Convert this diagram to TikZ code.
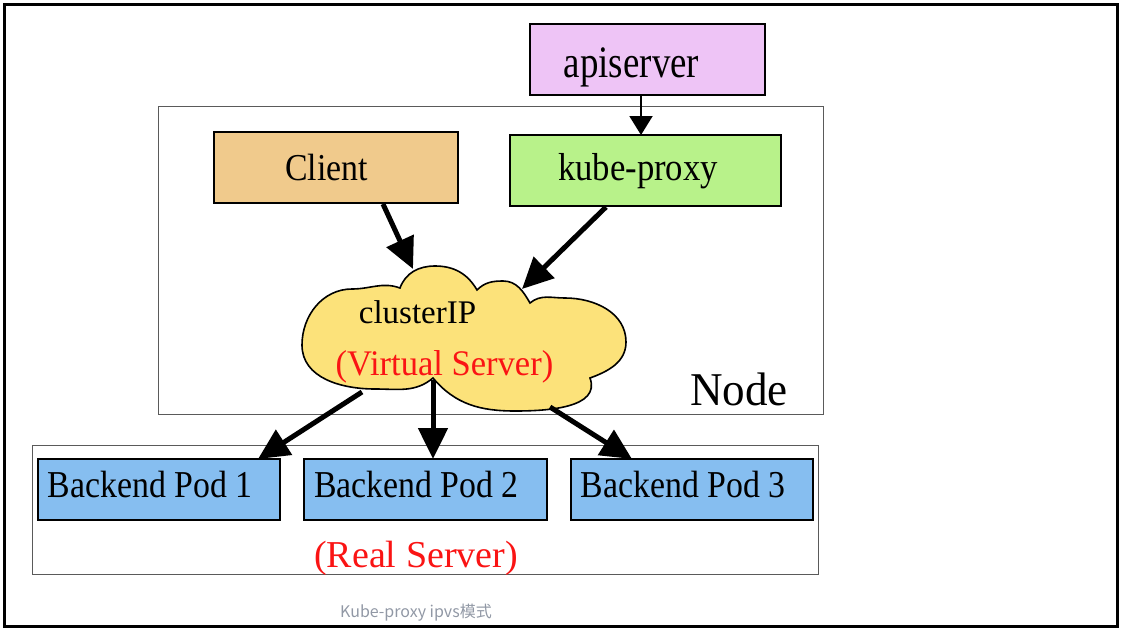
\documentclass[tikz,border=0pt]{standalone}
\usepackage{fontspec}
\setmainfont{Liberation Serif}
\newfontfamily\serA[FakeStretch=0.82]{Liberation Serif}
\newfontfamily\serC[FakeStretch=0.89]{Liberation Serif}
\newfontfamily\serN[FakeStretch=0.96]{Liberation Serif}
\newfontfamily\cjk{Noto Sans CJK SC}
\usetikzlibrary{arrows.meta}
\definecolor{apifill}{RGB}{238,196,246}
\definecolor{clientfill}{RGB}{240,202,140}
\definecolor{kpfill}{RGB}{184,242,138}
\definecolor{podfill}{RGB}{134,190,240}
\definecolor{cloudfill}{RGB}{252,226,122}
\definecolor{redtxt}{RGB}{250,20,20}
\definecolor{framegray}{RGB}{90,90,90}
\definecolor{captiongray}{RGB}{145,152,165}
\tikzset{
  x=1pt, y=1pt,
  boxnode/.style={draw=black, line width=1.6pt, inner sep=0pt, outer sep=0pt},
  areanode/.style={draw=framegray, line width=0.9pt, inner sep=0pt, outer sep=0pt},
  lbl/.style={anchor=base, inner sep=0pt},
  fatarrow/.style={line width=5pt, -{Triangle[length=31pt,width=29pt]}},
  thinarrow/.style={line width=2pt, -{Triangle[length=19pt,width=23pt]}},
}
\begin{document}
\begin{tikzpicture}
\useasboundingbox (0,0) rectangle (1128,-632);
% outer frame
\draw[line width=3pt] (4,-4) rectangle (1117,-626);
% area frames
\node[areanode, minimum width=665pt, minimum height=308pt] (nodearea) at (490.5,-260) {};
\node[areanode, minimum width=786pt, minimum height=129pt] (realarea) at (425,-509.5) {};
% boxes
\node[boxnode, fill=apifill, minimum width=235pt, minimum height=71pt] (api) at (647.5,-59.5) {};
\node[boxnode, fill=clientfill, minimum width=244pt, minimum height=71pt] (client) at (336,-167.5) {};
\node[boxnode, fill=kpfill, minimum width=271pt, minimum height=71pt] (kp) at (645.5,-170.5) {};
\node[boxnode, fill=podfill, minimum width=242pt, minimum height=61pt] (pod1) at (159,-489.5) {};
\node[boxnode, fill=podfill, minimum width=243pt, minimum height=61pt] (pod2) at (425.5,-489.5) {};
\node[boxnode, fill=podfill, minimum width=242pt, minimum height=61pt] (pod3) at (692,-489.5) {};
% cloud
\draw[line width=1.6pt, fill=cloudfill]
  (302,-345) to[out=90,in=180] (352,-289)
  to[out=0,in=160] (400,-288)
  to[out=70,in=180] (435,-266)
  to[out=0,in=120] (477,-290)
  to[out=45,in=180] (503,-281)
  to[out=0,in=120] (530,-303)
  to[out=40,in=180] (565,-298)
  to[out=0,in=90] (626,-342)
  to[out=-90,in=20] (590,-378)
  to[out=-70,in=0] (515,-411)
  to[out=180,in=-50] (433,-378)
  to[out=-140,in=0] (375,-389)
  to[out=180,in=-90] (302,-345) -- cycle;
% texts
\node[lbl] (tapi) at (631.5,-77) {\serA\fontsize{45}{50}\selectfont apiserver};
\node[lbl] (tclient) at (326.5,-180) {\serC\fontsize{38}{40}\selectfont Client};
\node[lbl] (tkp) at (638,-180) {\serC\fontsize{39}{40}\selectfont kube-proxy};
\node[lbl] (tcip) at (417.5,-323) {\fontsize{33}{36}\selectfont clusterIP};
\node[lbl, text=redtxt] (tvs) at (444.5,-375) {\serN\fontsize{36}{38}\selectfont (Virtual Server)};
\node[lbl] (tnode) at (739,-405) {\serN\fontsize{47}{50}\selectfont Node};
\node[lbl] (tp1) at (150,-497) {\serC\fontsize{38}{40}\selectfont Backend Pod 1};
\node[lbl] (tp2) at (416.5,-497) {\serC\fontsize{38}{40}\selectfont Backend Pod 2};
\node[lbl] (tp3) at (683,-497) {\serC\fontsize{38}{40}\selectfont Backend Pod 3};
\node[lbl, text=redtxt] (treal) at (416,-567) {\fontsize{38}{40}\selectfont (Real Server)};
\node[lbl, text=captiongray] (tcap) at (416,-617) {\cjk\fontsize{16}{18}\selectfont Kube-proxy ipvs模式};
% connector end points
\coordinate (apiout) at (641,-95);
\coordinate (kpin) at (641,-135);
\coordinate (clientout) at (383,-204);
\coordinate (cloudinL) at (413,-269);
\coordinate (kpout) at (606,-207);
\coordinate (cloudinR) at (522,-289);
\coordinate (cloudout1) at (362,-392);
\coordinate (cloudout2) at (433,-380);
\coordinate (cloudout3) at (550,-407);
\coordinate (pod1in) at (258,-459);
\coordinate (pod2in) at (433,-459);
\coordinate (pod3in) at (632,-459);
% connectors
\draw[thinarrow] (apiout) -- (kpin);
\draw[fatarrow] (clientout) -- (cloudinL);
\draw[fatarrow] (kpout) -- (cloudinR);
\draw[fatarrow] (cloudout1) -- (pod1in);
\draw[fatarrow] (cloudout2) -- (pod2in);
\draw[fatarrow] (cloudout3) -- (pod3in);
\end{tikzpicture}
\end{document}
